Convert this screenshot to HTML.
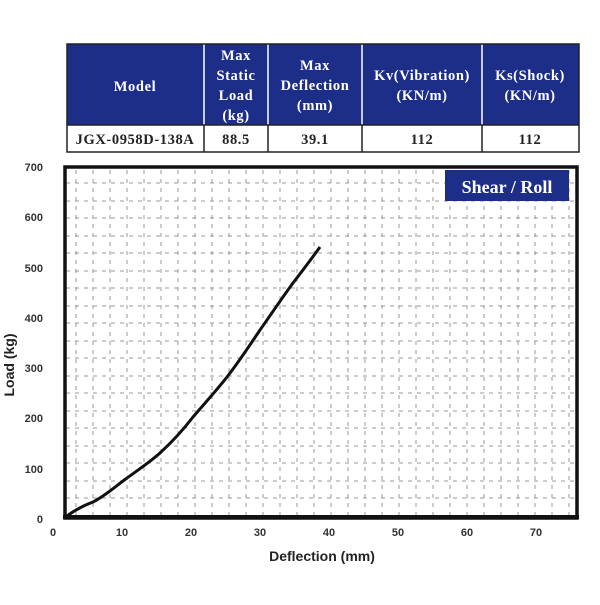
<!DOCTYPE html>
<html><head><style>
body{margin:0;background:#fff;width:600px;height:600px;overflow:hidden;font-family:"Liberation Serif",serif}
</style></head><body>
<svg width="600" height="600" xmlns="http://www.w3.org/2000/svg">
<rect x="0" y="0" width="600" height="600" fill="#fff"/>
<rect x="67" y="44" width="512" height="81" fill="#1d2e88"/>
<g stroke="#fff" stroke-width="1.5">
<line x1="204" y1="44" x2="204" y2="125"/><line x1="268" y1="44" x2="268" y2="125"/>
<line x1="362" y1="44" x2="362" y2="125"/><line x1="482" y1="44" x2="482" y2="125"/>
</g>
<rect x="67" y="44" width="512" height="108" fill="none" stroke="#222" stroke-width="1.5"/>
<g stroke="#222" stroke-width="1.5">
<line x1="67" y1="125" x2="579" y2="125"/>
<line x1="204" y1="125" x2="204" y2="152"/><line x1="268" y1="125" x2="268" y2="152"/>
<line x1="362" y1="125" x2="362" y2="152"/><line x1="482" y1="125" x2="482" y2="152"/>
</g>
<g font-family="Liberation Serif, serif" font-weight="bold" font-size="14.5" fill="#fff" text-anchor="middle" letter-spacing="0.6">
<text x="135" y="91">Model</text>
<text x="236" y="60">Max</text><text x="236" y="80">Static</text><text x="236" y="100">Load</text><text x="236" y="120">(kg)</text>
<text x="315" y="70">Max</text><text x="315" y="90">Deflection</text><text x="315" y="110">(mm)</text>
<text x="422" y="80">Kv(Vibration)</text><text x="422" y="100">(KN/m)</text>
<text x="530" y="80">Ks(Shock)</text><text x="530" y="100">(KN/m)</text>
</g>
<g font-family="Liberation Serif, serif" font-weight="bold" font-size="14.5" fill="#222" text-anchor="middle" letter-spacing="0.6">
<text x="135" y="144">JGX-0958D-138A</text>
<text x="236" y="144">88.5</text><text x="315" y="144">39.1</text>
<text x="422" y="144">112</text><text x="530" y="144">112</text>
</g>
<g stroke="#999" stroke-width="1" stroke-dasharray="4,5">
<line x1="66" y1="183" x2="576" y2="183"/><line x1="66" y1="201" x2="576" y2="201"/>
<line x1="66" y1="218" x2="576" y2="218"/><line x1="66" y1="236" x2="576" y2="236"/>
<line x1="66" y1="253" x2="576" y2="253"/><line x1="66" y1="271" x2="576" y2="271"/>
<line x1="66" y1="288" x2="576" y2="288"/><line x1="66" y1="306" x2="576" y2="306"/>
<line x1="66" y1="323" x2="576" y2="323"/><line x1="66" y1="341" x2="576" y2="341"/>
<line x1="66" y1="358" x2="576" y2="358"/><line x1="66" y1="376" x2="576" y2="376"/>
<line x1="66" y1="393" x2="576" y2="393"/><line x1="66" y1="411" x2="576" y2="411"/>
<line x1="66" y1="428" x2="576" y2="428"/><line x1="66" y1="446" x2="576" y2="446"/>
<line x1="66" y1="463" x2="576" y2="463"/><line x1="66" y1="481" x2="576" y2="481"/>
<line x1="66" y1="498" x2="576" y2="498"/>
</g>
<g stroke="#999" stroke-width="1" stroke-dasharray="4,5">
<line x1="76" y1="170" x2="76" y2="516"/><line x1="93" y1="170" x2="93" y2="516"/>
<line x1="110" y1="170" x2="110" y2="516"/><line x1="127" y1="170" x2="127" y2="516"/>
<line x1="144" y1="170" x2="144" y2="516"/><line x1="161" y1="170" x2="161" y2="516"/>
<line x1="178" y1="170" x2="178" y2="516"/><line x1="195" y1="170" x2="195" y2="516"/>
<line x1="212" y1="170" x2="212" y2="516"/><line x1="229" y1="170" x2="229" y2="516"/>
<line x1="246" y1="170" x2="246" y2="516"/><line x1="263" y1="170" x2="263" y2="516"/>
<line x1="280" y1="170" x2="280" y2="516"/><line x1="297" y1="170" x2="297" y2="516"/>
<line x1="314" y1="170" x2="314" y2="516"/><line x1="331" y1="170" x2="331" y2="516"/>
<line x1="348" y1="170" x2="348" y2="516"/><line x1="365" y1="170" x2="365" y2="516"/>
<line x1="382" y1="170" x2="382" y2="516"/><line x1="399" y1="170" x2="399" y2="516"/>
<line x1="416" y1="170" x2="416" y2="516"/><line x1="433" y1="170" x2="433" y2="516"/>
<line x1="450" y1="170" x2="450" y2="516"/><line x1="467" y1="170" x2="467" y2="516"/>
<line x1="484" y1="170" x2="484" y2="516"/><line x1="501" y1="170" x2="501" y2="516"/>
<line x1="518" y1="170" x2="518" y2="516"/><line x1="535" y1="170" x2="535" y2="516"/>
<line x1="552" y1="170" x2="552" y2="516"/><line x1="569" y1="170" x2="569" y2="516"/>
</g>
<rect x="65" y="167" width="512" height="351" fill="none" stroke="#111" stroke-width="3.5"/>
<line x1="63" y1="517" x2="579" y2="517" stroke="#111" stroke-width="4"/>
<rect x="445" y="170" width="124" height="31" fill="#1d2e88"/>
<text x="507" y="193" font-family="Liberation Serif, serif" font-weight="bold" font-size="18" fill="#fff" text-anchor="middle">Shear / Roll</text>
<path d="M67,516 C75,510 85,505 93,502 C105,496 116,486 127,478 C138,470 150,462 160,453 C172,442 183,430 193,417 C205,403 216,391 227,377 C238,363 250,345 260,330 C272,313 282,298 293,283 C303,270 312,258 320,247" fill="none" stroke="#111" stroke-width="3"/>
<g font-family="Liberation Sans, sans-serif" font-size="11" fill="#333" text-anchor="end" font-weight="bold">
<text x="43" y="171">700</text><text x="43" y="221">600</text><text x="43" y="272">500</text>
<text x="43" y="322">400</text><text x="43" y="372">300</text><text x="43" y="422">200</text>
<text x="43" y="473">100</text><text x="43" y="523">0</text>
</g>
<g font-family="Liberation Sans, sans-serif" font-size="11" fill="#333" text-anchor="middle" font-weight="bold">
<text x="53" y="536">0</text><text x="122" y="536">10</text><text x="191" y="536">20</text>
<text x="260" y="536">30</text><text x="329" y="536">40</text><text x="398" y="536">50</text>
<text x="467" y="536">60</text><text x="536" y="536">70</text>
</g>
<text x="322" y="561" font-family="Liberation Sans, sans-serif" font-size="14" font-weight="bold" fill="#222" text-anchor="middle">Deflection (mm)</text>
<text transform="translate(14,365) rotate(-90)" font-family="Liberation Sans, sans-serif" font-size="14" font-weight="bold" fill="#222" text-anchor="middle">Load (kg)</text>
</svg>
</body></html>
